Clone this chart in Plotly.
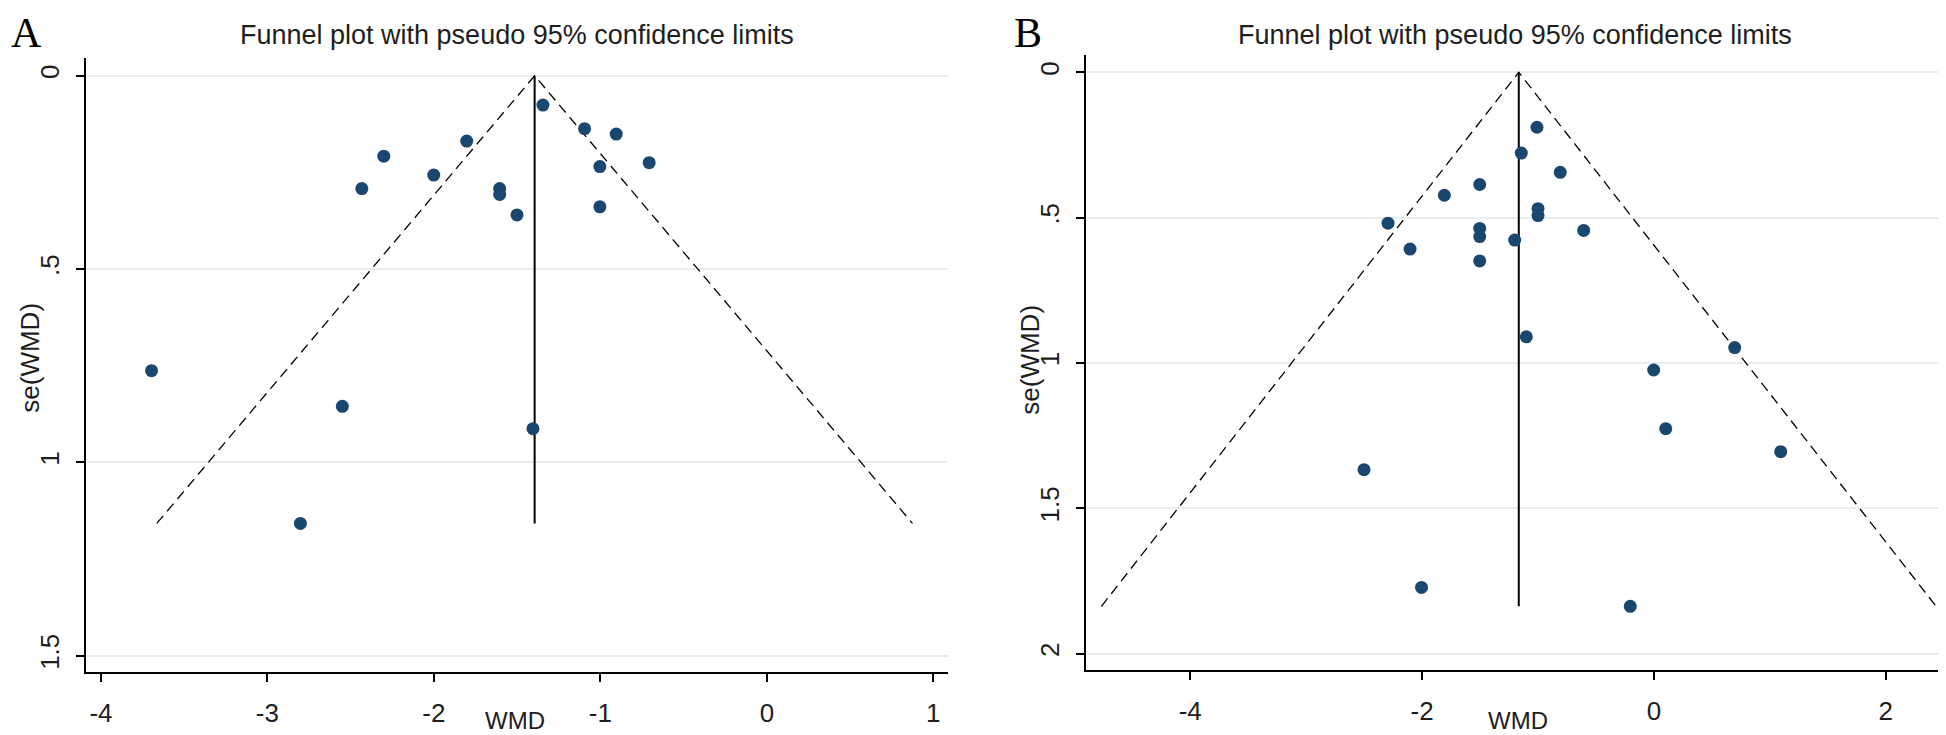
import plotly.graph_objects as go

# ---------------- data ----------------
# Panel A
a_wmd = [-3.696, -2.550, -2.802, -2.433, -2.301, -2.001, -1.803, -1.605, -1.605,
         -1.501, -1.345, -1.095, -0.905, -1.003, -0.707, -1.003, -1.405]
a_se = [0.763, 0.855, 1.158, 0.292, 0.208, 0.257, 0.169, 0.292, 0.307,
        0.360, 0.076, 0.137, 0.151, 0.235, 0.225, 0.339, 0.913]
a_pooled = -1.395
a_xticks = [-4, -3, -2, -1, 0, 1]
a_xticktext = ["-4", "-3", "-2", "-1", "0", "1"]
a_yticks = [0, 0.5, 1, 1.5]
a_yticktext = ["0", ".5", "1", "1.5"]

# Panel B
b_wmd = [-2.294, -2.104, -1.808, -1.503, -1.503, -1.503, -1.503, -2.501, -2.005,
         -1.009, -1.144, -0.808, -1.000, -1.000, -0.606, -1.201, -1.101, 0.697,
         -0.002, 0.102, 1.094, -0.204]
b_se = [0.519, 0.608, 0.423, 0.386, 0.537, 0.565, 0.649, 1.367, 1.772,
        0.189, 0.278, 0.344, 0.469, 0.493, 0.544, 0.577, 0.910, 0.947,
        1.024, 1.226, 1.305, 1.837]
b_pooled = -1.166
b_xticks = [-4, -2, 0, 2]
b_xticktext = ["-4", "-2", "0", "2"]
b_yticks = [0, 0.5, 1, 1.5, 2]
b_yticktext = ["0", ".5", "1", "1.5", "2"]

titles = ["Funnel plot with pseudo 95% confidence limits",
          "Funnel plot with pseudo 95% confidence limits"]
panel_labels = ["A", "B"]
x_title = "WMD"
y_title = "se(WMD)"
z95 = 1.96

# ---------------- styling ----------------
W, H = 1946, 735
MARKER = "#1a476f"
GRID = "#e6eef2"
TXT = "#1e1e1e"
FONT = "Liberation Sans, Arial, sans-serif"
SERIF = "Liberation Serif, Times New Roman, serif"

fig = go.Figure()


def add_panel(fig, wmd, se, pooled, xa, ya):
    se_max = max(se)
    lo = pooled - z95 * se_max
    hi = pooled + z95 * se_max
    # funnel limits (dashed)
    fig.add_trace(go.Scatter(x=[lo, pooled, hi], y=[se_max, 0, se_max], mode="lines",
                             line=dict(color="black", width=1.3, dash="10px,6px"),
                             xaxis=xa, yaxis=ya, showlegend=False, hoverinfo="skip"))
    # pooled estimate (solid vertical)
    fig.add_trace(go.Scatter(x=[pooled, pooled], y=[0, se_max], mode="lines",
                             line=dict(color="black", width=2),
                             xaxis=xa, yaxis=ya, showlegend=False, hoverinfo="skip"))
    fig.add_trace(go.Scatter(x=wmd, y=se, mode="markers",
                             marker=dict(color=MARKER, size=13, line=dict(width=0)),
                             xaxis=xa, yaxis=ya, showlegend=False))


add_panel(fig, a_wmd, a_se, a_pooled, "x", "y")
add_panel(fig, b_wmd, b_se, b_pooled, "x2", "y2")

common_x = dict(showline=True, linecolor="black", linewidth=2, ticks="outside",
                ticklen=8, tickwidth=2, tickcolor="black", showgrid=False,
                zeroline=False, tickfont=dict(family=FONT, size=26, color=TXT),
                ticklabelstandoff=8)
common_y = dict(showline=True, linecolor="black", linewidth=2, ticks="outside",
                ticklen=8, tickwidth=2, tickcolor="black", showgrid=True,
                gridcolor=GRID, gridwidth=1.5, zeroline=False, tickangle=-90,
                tickfont=dict(family=FONT, size=26, color=TXT), ticklabelstandoff=7)

# pixel-based domains
ax_dom = [78.3 / W, 940 / W]
ay_dom = [1 - 664.3 / H, 1 - 50 / H]
bx_dom = [1078.3 / W, 1943 / W]
by_dom = [1 - 662.3 / H, 1 - 46.7 / H]

fig.update_layout(
    width=W, height=H, margin=dict(l=0, r=0, t=0, b=0),
    paper_bgcolor="white", plot_bgcolor="white",
    xaxis=dict(domain=ax_dom, range=[-4.088, 1.088], tickvals=a_xticks,
               ticktext=a_xticktext, anchor="y", **common_x),
    yaxis=dict(domain=ay_dom, range=[1.543, -0.0458], tickvals=a_yticks,
               ticktext=a_yticktext, anchor="x", **common_y),
    xaxis2=dict(domain=bx_dom, range=[-4.897, 2.563], tickvals=b_xticks,
                ticktext=b_xticktext, anchor="y2", **common_x),
    yaxis2=dict(domain=by_dom, range=[2.057, -0.0605], tickvals=b_yticks,
                ticktext=b_yticktext, anchor="x2", **common_y),
)

ann = []
# titles
for xc, t in [(509, titles[0]), (1507, titles[1])]:
    ann.append(dict(text=t, x=xc / W, y=1 - 27 / H, xref="paper", yref="paper",
                    showarrow=False, font=dict(family=FONT, size=27, color=TXT),
                    xanchor="center", yanchor="middle"))
# panel letters
for xl, t in [(1, panel_labels[0]), (1004, panel_labels[1])]:
    ann.append(dict(text=t, x=xl / W, y=1.0, xref="paper", yref="paper",
                    showarrow=False, font=dict(family=SERIF, size=42, color="black"),
                    xanchor="left", yanchor="top"))
# x-axis titles
for xc in [507, 1510]:
    ann.append(dict(text=x_title, x=xc / W, y=1 - 712 / H, xref="paper", yref="paper",
                    showarrow=False, font=dict(family=FONT, size=24, color=TXT),
                    xanchor="center", yanchor="middle", borderpad=0))
# y-axis titles
for xc, yc in [(21.7, 350), (1021.7, 352)]:
    ann.append(dict(text=y_title, x=xc / W, y=1 - yc / H, xref="paper", yref="paper",
                    showarrow=False, textangle=-90, font=dict(family=FONT, size=26, color=TXT),
                    xanchor="center", yanchor="middle"))
fig.update_layout(annotations=ann)

fig.write_html("out.html")
